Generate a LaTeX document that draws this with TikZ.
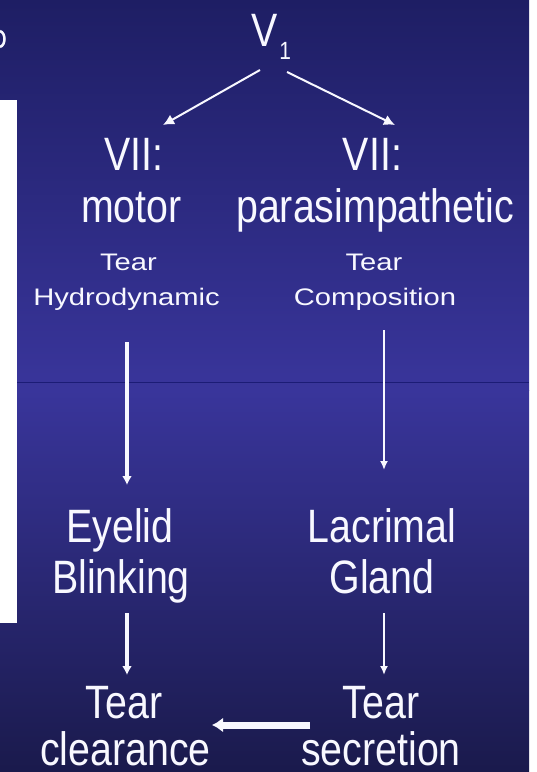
\documentclass[tikz,border=0pt]{standalone}
\usepackage{fontspec}
\setmainfont{Liberation Sans}
\newfontfamily\bigf[FakeStretch=0.84]{Liberation Sans}
\newfontfamily\smallf[FakeStretch=1.22]{Liberation Sans}
\usetikzlibrary{arrows.meta,calc}
\definecolor{bgtop}{RGB}{30,30,100}
\definecolor{bgmid}{RGB}{57,53,155}
\definecolor{bgbot}{RGB}{26,26,76}
\definecolor{rulecol}{RGB}{28,28,118}
\definecolor{txt}{RGB}{248,248,255}
\begin{document}
\begin{tikzpicture}[x=1bp,y=-1bp,
  big/.style={text=txt,font=\bigf\fontsize{47}{47}\selectfont,inner sep=0pt,anchor=base},
  small/.style={text=txt,font=\smallf\fontsize{24}{24}\selectfont,inner sep=0pt,anchor=base},
  thinarrow/.style={draw=txt,line width=2bp,-{Latex[length=11bp,width=11bp]}},
  slimarrow/.style={draw=txt,line width=1.8bp,-{Latex[length=9bp,width=8bp]}},
  medarrow/.style={draw=txt,line width=3.2bp,-{Latex[length=9bp,width=10bp]}},
  fatarrow/.style={draw=txt,line width=7bp,-{Latex[length=11bp,width=15bp]}}
]
\useasboundingbox (0,0) rectangle (537,772);
% background
\fill[white] (0,0) rectangle (537,772);
\shade[top color=bgtop,bottom color=bgmid] (0,0) rectangle (529,390);
\shade[top color=bgmid,bottom color=bgbot] (0,390) rectangle (529,772);
\fill[white] (0,100) rectangle (17,623);
\draw[rulecol,line width=1bp] (17,382) -- (529,382);
\draw[txt,line width=2.5bp] (0,31) .. controls (6,33) and (6,45) .. (0,47);

% text
\node[big,anchor=base west] (v1) at (251,47) {V\kern2bp\raisebox{-13bp}{\fontsize{25}{25}\selectfont 1}};
\node[big] (vii1) at (134,170) {VII:};
\node[big] (vii2) at (372.5,170) {VII:};
\node[big] (motor) at (131.5,222) {motor};
\node[big] (para) at (375,222) {parasimpathetic};
\node[small] (tearA) at (128.5,270) {Tear};
\node[small] (hydro) at (126.5,305) {Hydrodynamic};
\node[small] (tearB) at (374,270) {Tear};
\node[small] (comp) at (375,305) {Composition};
\node[big] (eyelid) at (120,542) {Eyelid};
\node[big] (blinking) at (121,593) {Blinking};
\node[big] (lacrimal) at (382,542) {Lacrimal};
\node[big] (gland) at (382,593) {Gland};
\node[big] (tearC) at (124,718) {Tear};
\node[big,text depth=0pt] (clear) at (125.5,765) {clearance};
\node[big] (tearD) at (381,718) {Tear};
\node[big,text depth=0pt] (secr) at (381,765) {secretion};

% connectors
\draw[thinarrow] ($(v1.base west)+(9,23)$) -- ($(vii1.base)+(29,-45)$);
\draw[thinarrow] ($(v1.base west)+(36,25)$) -- ($(vii2.base)+(22.5,-45)$);
\draw[medarrow] ($(hydro.base)+(0.5,37)$) -- ($(hydro.base |- eyelid.base)+(0.5,-57)$);
\draw[slimarrow] ($(comp.base)+(9,25)$) -- ($(comp.base |- lacrimal.base)+(9,-72)$);
\draw[medarrow] ($(blinking.base)+(6,20)$) -- ($(blinking.base |- tearC.base)+(6,-43)$);
\draw[slimarrow] ($(gland.base)+(2,20)$) -- ($(gland.base |- tearD.base)+(2,-43)$);
\draw[fatarrow] ($(tearD.base)+(-71,7)$) -- ($(tearC.base)+(88,7)$);
\end{tikzpicture}
\end{document}
